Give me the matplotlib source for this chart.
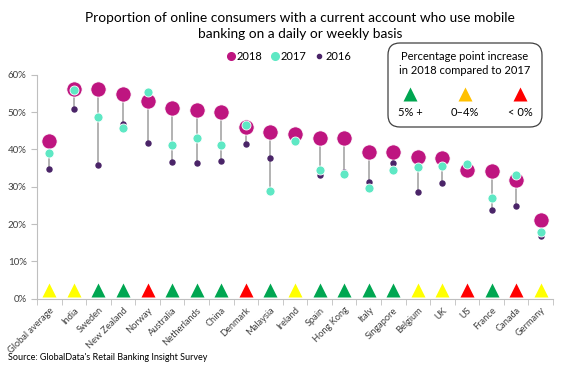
import matplotlib
matplotlib.use("Agg")
import matplotlib.pyplot as plt
from matplotlib.patches import FancyBboxPatch
from matplotlib.lines import Line2D
from matplotlib.ticker import PercentFormatter, FixedLocator
from matplotlib.transforms import ScaledTranslation

plt.rcParams['font.family'] = ['Lato', 'DejaVu Sans']

categories = ["Global average", "India", "Sweden", "New Zealand", "Norway", "Australia",
              "Netherlands", "China", "Denmark", "Malaysia", "Ireland", "Spain", "Hong Kong",
              "Italy", "Singapore", "Belgium", "UK", "US", "France", "Canada", "Germany"]
v2018 = [42.2, 56.2, 56.2, 54.7, 52.9, 51.2, 50.6, 50.1, 46.1, 44.7, 44.1, 43.0, 43.0,
         39.4, 39.4, 37.9, 37.7, 34.6, 34.2, 31.8, 21.1]
v2017 = [39.1, 56.0, 48.8, 45.7, 55.4, 41.3, 43.0, 41.1, 46.4, 28.8, 42.2, 34.6, 33.3,
         29.6, 34.5, 35.2, 35.6, 36.2, 26.9, 33.1, 17.9]
v2016 = [34.8, 50.9, 35.7, 46.8, 41.8, 36.6, 36.4, 37.0, 41.4, 37.7, 42.0, 33.1, 33.9,
         31.2, 36.4, 28.6, 31.1, 35.7, 23.8, 24.7, 16.9]
change_class = ["mid", "mid", "up", "up", "down", "up", "up", "up", "down", "up", "mid",
                "up", "up", "up", "up", "mid", "mid", "down", "up", "down", "mid"]

c2018 = "#BE1580"
c2017 = "#5EE8C4"
c2016 = "#4A2468"
tri_colors = {"up": "#00A651", "mid": "#FFFF00", "down": "#FF0000"}
legend_tri = {"up": "#00A651", "mid": "#FFC000", "down": "#FF0000"}

fig = plt.figure(figsize=(5.63, 3.69), dpi=100)
ax = fig.add_axes([37 / 563, 1 - 298.7 / 369, (553 - 37) / 563, (298.7 - 74.7) / 369])

x = list(range(len(categories)))
for i in x:
    lo = min(v2018[i], v2017[i], v2016[i])
    hi = max(v2018[i], v2017[i], v2016[i])
    ax.plot([i, i], [lo, hi], color="#A6A6A6", lw=1.2, zorder=1)

ax.plot(x, v2018, 'o', ms=11, color=c2018, mec="white", mew=0.6, zorder=2, ls='none')
ax.plot(x, v2016, 'o', ms=3.6, color=c2016, mec=c2016, zorder=3, ls='none')
ax.plot(x, v2017, 'o', ms=6.5, color=c2017, mec="white", mew=0.6, zorder=4, ls='none')

for i in x:
    ax.plot(i, 2.4, '^', ms=10, color=tri_colors[change_class[i]], mec='none', zorder=3)

ax.set_xlim(-0.5, len(categories) - 0.5)
ax.set_ylim(0, 60)
ax.yaxis.set_major_locator(FixedLocator([0, 10, 20, 30, 40, 50, 60]))
ax.yaxis.set_major_formatter(PercentFormatter(decimals=0))
ax.set_xticks(x)
ax.set_xticklabels(categories, rotation=45, ha='right', rotation_mode='anchor',
                   fontsize=6.7, color="#404040")
offset = ScaledTranslation(4 / 100, -1 / 100, fig.dpi_scale_trans)
for lbl in ax.get_xticklabels():
    lbl.set_transform(lbl.get_transform() + offset)
ax.set_xticks([i - 0.5 for i in range(len(categories) + 1)], minor=True)
ax.tick_params(axis='x', which='major', length=0, pad=5)
ax.tick_params(axis='x', which='minor', length=4, color="#BFBFBF", direction='out')
ax.tick_params(axis='y', length=4, color="#BFBFBF", labelsize=7, labelcolor="#404040")
for s in ['top', 'right']:
    ax.spines[s].set_visible(False)
for s in ['left', 'bottom']:
    ax.spines[s].set_color("#BFBFBF")
    ax.spines[s].set_linewidth(0.8)

fig.text(300 / 563, 1 - 26 / 369,
         "Proportion of online consumers with a current account who use mobile\nbanking on a daily or weekly basis",
         ha='center', va='center', fontsize=9.9, color="#000000", linespacing=1.35)

handles = [Line2D([], [], marker='o', ls='none', ms=5.5, color=c2018),
           Line2D([], [], marker='o', ls='none', ms=5.5, color=c2017),
           Line2D([], [], marker='o', ls='none', ms=3, color=c2016)]
fig.legend(handles, ["2018", "2017", "2016"], ncol=3, frameon=False,
           loc='center', bbox_to_anchor=(288 / 563, 1 - 56 / 369), fontsize=8,
           handletextpad=0.05, columnspacing=0.6, handlelength=1.0)

box = FancyBboxPatch((3.88, 3.69 - 1.27), 1.54, 0.84,
                     boxstyle="round,pad=0,rounding_size=0.12",
                     transform=fig.dpi_scale_trans, fc="white", ec="#404040", lw=0.9)
fig.patches.append(box)
fig.text(465 / 563, 1 - 57 / 369, "Percentage point increase", ha='center', va='center', fontsize=8)
fig.text(465 / 563, 1 - 71 / 369, "in 2018 compared to 2017", ha='center', va='center', fontsize=8)
for xp, key, lab in [(410, "up", "5% +"), (465, "mid", "0\u20134%"), (520, "down", "< 0%")]:
    fig.lines.append(Line2D([xp / 563], [1 - 94 / 369], marker='^', ms=10, color=legend_tri[key],
                            mec='none', transform=fig.transFigure))
    fig.text(xp / 563, 1 - 112 / 369, lab, ha='center', va='center', fontsize=8)

fig.text(8 / 563, 1 - 357 / 369, "Source: GlobalData's Retail Banking Insight Survey",
         ha='left', va='center', fontsize=6.5, color="#000000")

fig.savefig("out.png", dpi=100)
